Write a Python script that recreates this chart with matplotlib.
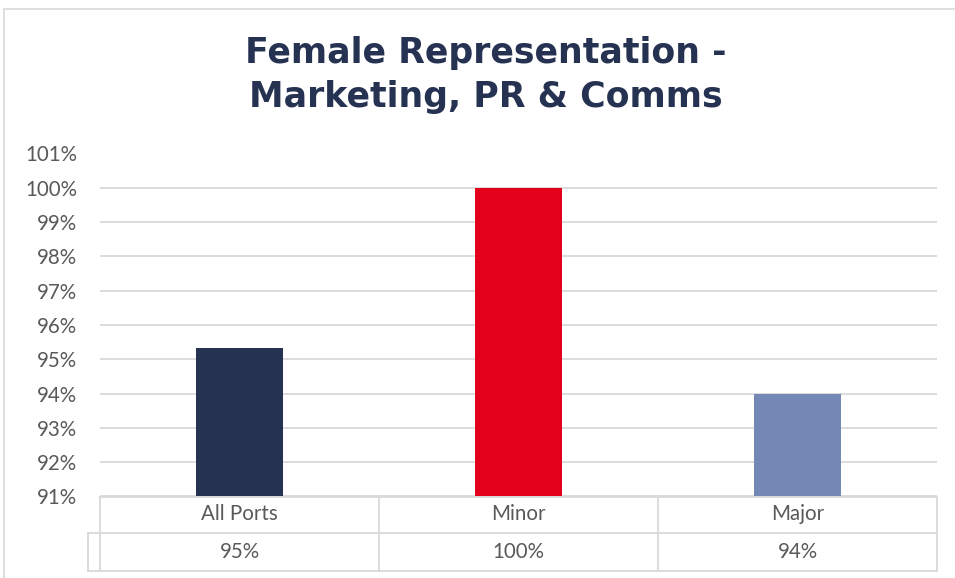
import matplotlib.pyplot as plt
from matplotlib.patches import Rectangle
from matplotlib.transforms import blended_transform_factory

categories = ['All Ports', 'Minor', 'Major']
values = [95.33, 100.0, 94.0]
value_labels = ['95%', '100%', '94%']
colors = ['#263252', '#E2001A', '#7388B4']
yticks = list(range(91, 102))

W, H = 955, 578
fig = plt.figure(figsize=(W / 100, H / 100), dpi=100)

# outer chart border (cropped at right and bottom)
fig.patches.append(Rectangle((4 / W, -0.1), 1.2, (H - 9) / H + 0.1,
                             transform=fig.transFigure, fill=False,
                             edgecolor='#D9D9D9', linewidth=1.2))

left, right, top, bottom = 100, 937, 153.5, 496.5
ax = fig.add_axes([left / W, (H - bottom) / H, (right - left) / W, (bottom - top) / H])

x = range(len(categories))
ax.bar(x, [v - 91 for v in values], bottom=91, width=0.315, color=colors, zorder=3)
ax.set_xlim(-0.5, 2.5)
ax.set_ylim(91, 101)
ax.set_yticks(yticks)
ax.set_yticklabels([f'{t}%' for t in yticks], fontsize=14.8, color='#595959',
                   family='Lato')
ax.set_xticks([])
ax.tick_params(axis='y', length=0, pad=16.5)
for s in ax.spines.values():
    s.set_visible(False)
ax.grid(axis='y', color='#D9D9D9', linewidth=1.3, zorder=0)
ax.set_axisbelow(True)

# data table under the axis
tr = blended_transform_factory(ax.transData, ax.transAxes)
lc = '#D9D9D9'
r1 = -36 / (bottom - top)
r2 = -74 / (bottom - top)
key_x = -0.5 - 12 / 279
ax.plot([-0.5, 2.5], [0, 0], color=lc, lw=1.3, transform=tr, clip_on=False)
ax.plot([key_x, 2.5], [r1, r1], color=lc, lw=1.3, transform=tr, clip_on=False)
ax.plot([key_x, 2.5], [r2, r2], color=lc, lw=1.3, transform=tr, clip_on=False)
for xv in [-0.5, 0.5, 1.5, 2.5]:
    ax.plot([xv, xv], [0, r2], color=lc, lw=1.3, transform=tr, clip_on=False)
ax.plot([key_x, key_x], [r1, r2], color=lc, lw=1.3, transform=tr, clip_on=False)
for i, (c, lab) in enumerate(zip(categories, value_labels)):
    ax.text(i, r1 / 2, c, transform=tr, ha='center', va='center', fontsize=14.8,
            color='#595959', family='Lato')
    ax.text(i, (r1 + r2) / 2, lab, transform=tr, ha='center', va='center',
            fontsize=14.8, color='#595959', family='Lato')

fig.text(486 / W, 1 - 63 / H, 'Female Representation -', ha='center', va='baseline',
         fontsize=25, fontweight='bold', color='#263252', family='DejaVu Sans')
fig.text(486 / W, 1 - 107 / H, 'Marketing, PR & Comms', ha='center', va='baseline',
         fontsize=25, fontweight='bold', color='#263252', family='DejaVu Sans')

fig.savefig('out.png', dpi=100)
